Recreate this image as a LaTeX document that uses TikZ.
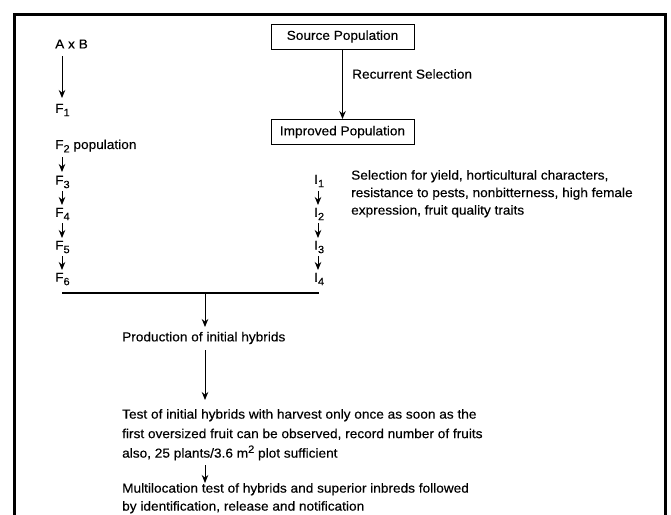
\documentclass[tikz,border=0pt]{standalone}
\usepackage{fontspec}
\setmainfont{Liberation Sans}[FakeStretch=1.05,FakeBold=0.3]
\usetikzlibrary{arrows.meta}
\newcommand\lowsub[1]{\raisebox{-0.5ex}{\fontsize{10.5}{12}\selectfont #1}}
\newcommand\highsup[1]{\raisebox{0.7ex}{\fontsize{10.5}{12}\selectfont #1}}
\begin{document}
\begin{tikzpicture}[x=1pt,y=-1pt,
  txt/.style={anchor=west,inner sep=0pt,font=\fontsize{13}{18.5}\selectfont,align=left},
  popbox/.style={draw,line width=1pt,minimum width=143pt,minimum height=25pt,inner sep=0pt,font=\fontsize{13}{15}\selectfont},
  arr/.style={line width=1pt,-{Stealth[length=8pt,width=6.5pt]}},
  frame/.style={line width=3pt}]
\useasboundingbox (0,0) rectangle (671,514);
\begin{scope}
\clip (0,0) rectangle (671,514);
\draw[frame] (14,530) -- (14,14) -- (665,14) -- (665,530);
\end{scope}
% right column
\node[popbox] (src) at (342.5,36.5) {Source Population};
\node[popbox] (imp) at (342.5,132) {Improved Population};
\draw[arr] (src) -- (imp);
\node[txt] (rs) at (352,74) {Recurrent Selection};
% left column
\node[txt] (ab) at (55,44) {A x B};
\node[txt] (f1) at (55,110) {F\lowsub{1}};
\node[txt] (f2) at (55,146) {F\lowsub{2} population};
\node[txt] (f3) at (55,182) {F\lowsub{3}};
\node[txt] (f4) at (55,214) {F\lowsub{4}};
\node[txt] (f5) at (55,247) {F\lowsub{5}};
\node[txt] (f6) at (55,279) {F\lowsub{6}};
\coordinate (c0) at (62,56);
\coordinate (c1) at (62,98);
\draw[arr] (c0) -- (c1);
\foreach \a/\b in {157/172,191/205,223/238,256/270}{
  \draw[arr] (62,\a) -- (62,\b);
}
\foreach \a/\b in {191/205,223/238,256/270}{
  \draw[arr] (318,\a) -- (318,\b);
}
\node[txt] (i1) at (314,181) {I\lowsub{1}};
\node[txt] (i2) at (314,214) {I\lowsub{2}};
\node[txt] (i3) at (314,247) {I\lowsub{3}};
\node[txt] (i4) at (314,279) {I\lowsub{4}};
\node[txt,anchor=north west,font=\fontsize{13}{17.5}\selectfont] (sel) at (351,170) {Selection for yield, horticultural characters,\\resistance to pests, nonbitterness, high female\\expression, fruit quality traits};
% merge
\coordinate (hl) at (62,293);
\coordinate (hr) at (319,293);
\coordinate (hm) at (205,293);
\draw[line width=1.4pt] (hl) -- (hr);
\node[txt] (prod) at (122,338) {Production of initial hybrids};
\coordinate (p1) at (205,327);
\draw[arr] (hm) -- (p1);
\node[txt,anchor=north west,font=\fontsize{13}{19.5}\selectfont] (test) at (122,409) {Test of initial hybrids with harvest only once as soon as the\\first oversized fruit can be observed, record number of fruits\\also, 25 plants/3.6 m\highsup{2} plot sufficient};
\coordinate (t0) at (205,350);
\coordinate (t1) at (205,400);
\draw[arr] (t0) -- (t1);
\node[txt,anchor=north west,font=\fontsize{13}{18}\selectfont] (multi) at (122,483) {Multilocation test of hybrids and superior inbreds followed\\by identification, release and notification};
\coordinate (m0) at (205,465);
\coordinate (m1) at (205,483);
\draw[arr] (m0) -- (m1);
\end{tikzpicture}
\end{document}
